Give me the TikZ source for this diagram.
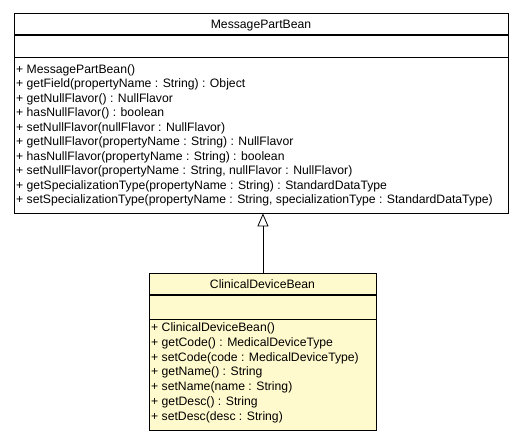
\documentclass[tikz,border=0pt]{standalone}
\usepackage{fontspec}
\setmainfont{Liberation Sans}
\usetikzlibrary{arrows.meta}
\definecolor{beanfill}{RGB}{255,250,205}

\begin{document}
\begin{tikzpicture}[
    x=1pt, y=-1pt,
    class box/.style={draw, line width=0.9pt, anchor=north west, inner sep=0pt},
    divider/.style={line width=0.7pt},
    title divider/.style={line width=1.4pt},
    class name/.style={font=\fontsize{12.2}{14}\selectfont, anchor=base},
    member/.style={font=\fontsize{12.2}{14}\selectfont, anchor=base west, inner sep=0pt},
    extends/.style={line width=0.8pt, -{Triangle[open, length=13pt, width=11pt, line width=0.8pt]}}
]
    \useasboundingbox (0,0) rectangle (525,440);

    % Parent class
    \node[class box, minimum width=494pt, minimum height=200pt] (mpb) at (14,12.5) {};
    \draw[title divider] (14,35) -- (508,35);
    \draw[divider] (14,57.5) -- (508,57.5);
    \node[class name] (mpbname) at (261,28) {MessagePartBean};
    \foreach \m [count=\i from 0] in {
        {+ MessagePartBean()},
        {+ getField(propertyName : String) : Object},
        {+ getNullFlavor() : NullFlavor},
        {+ hasNullFlavor() : boolean},
        {+ setNullFlavor(nullFlavor : NullFlavor)},
        {+ getNullFlavor(propertyName : String) : NullFlavor},
        {+ hasNullFlavor(propertyName : String) : boolean},
        {+ setNullFlavor(propertyName : String, nullFlavor : NullFlavor)},
        {+ getSpecializationType(propertyName : String) : StandardDataType},
        {+ setSpecializationType(propertyName : String, specializationType : StandardDataType)}}
        \node[member] (mpbm\i) at (16, 73.5+14.45*\i) {\m};

    % Child class
    \node[class box, fill=beanfill, minimum width=227pt, minimum height=157pt] (cdb) at (149,272.5) {};
    \draw[title divider] (149,295) -- (376,295);
    \draw[divider] (149,319) -- (376,319);
    \node[class name] (cdbname) at (262.5,288) {ClinicalDeviceBean};
    \foreach \m [count=\i from 0] in {
        {+ ClinicalDeviceBean()},
        {+ getCode() : MedicalDeviceType},
        {+ setCode(code : MedicalDeviceType)},
        {+ getName() : String},
        {+ setName(name : String)},
        {+ getDesc() : String},
        {+ setDesc(desc : String)}}
        \node[member] (cdbm\i) at (151, 331.5+14.75*\i) {\m};

    % Generalization
    \draw[extends] (cdb.north) -- (cdb.north |- mpb.south);
\end{tikzpicture}
\end{document}
